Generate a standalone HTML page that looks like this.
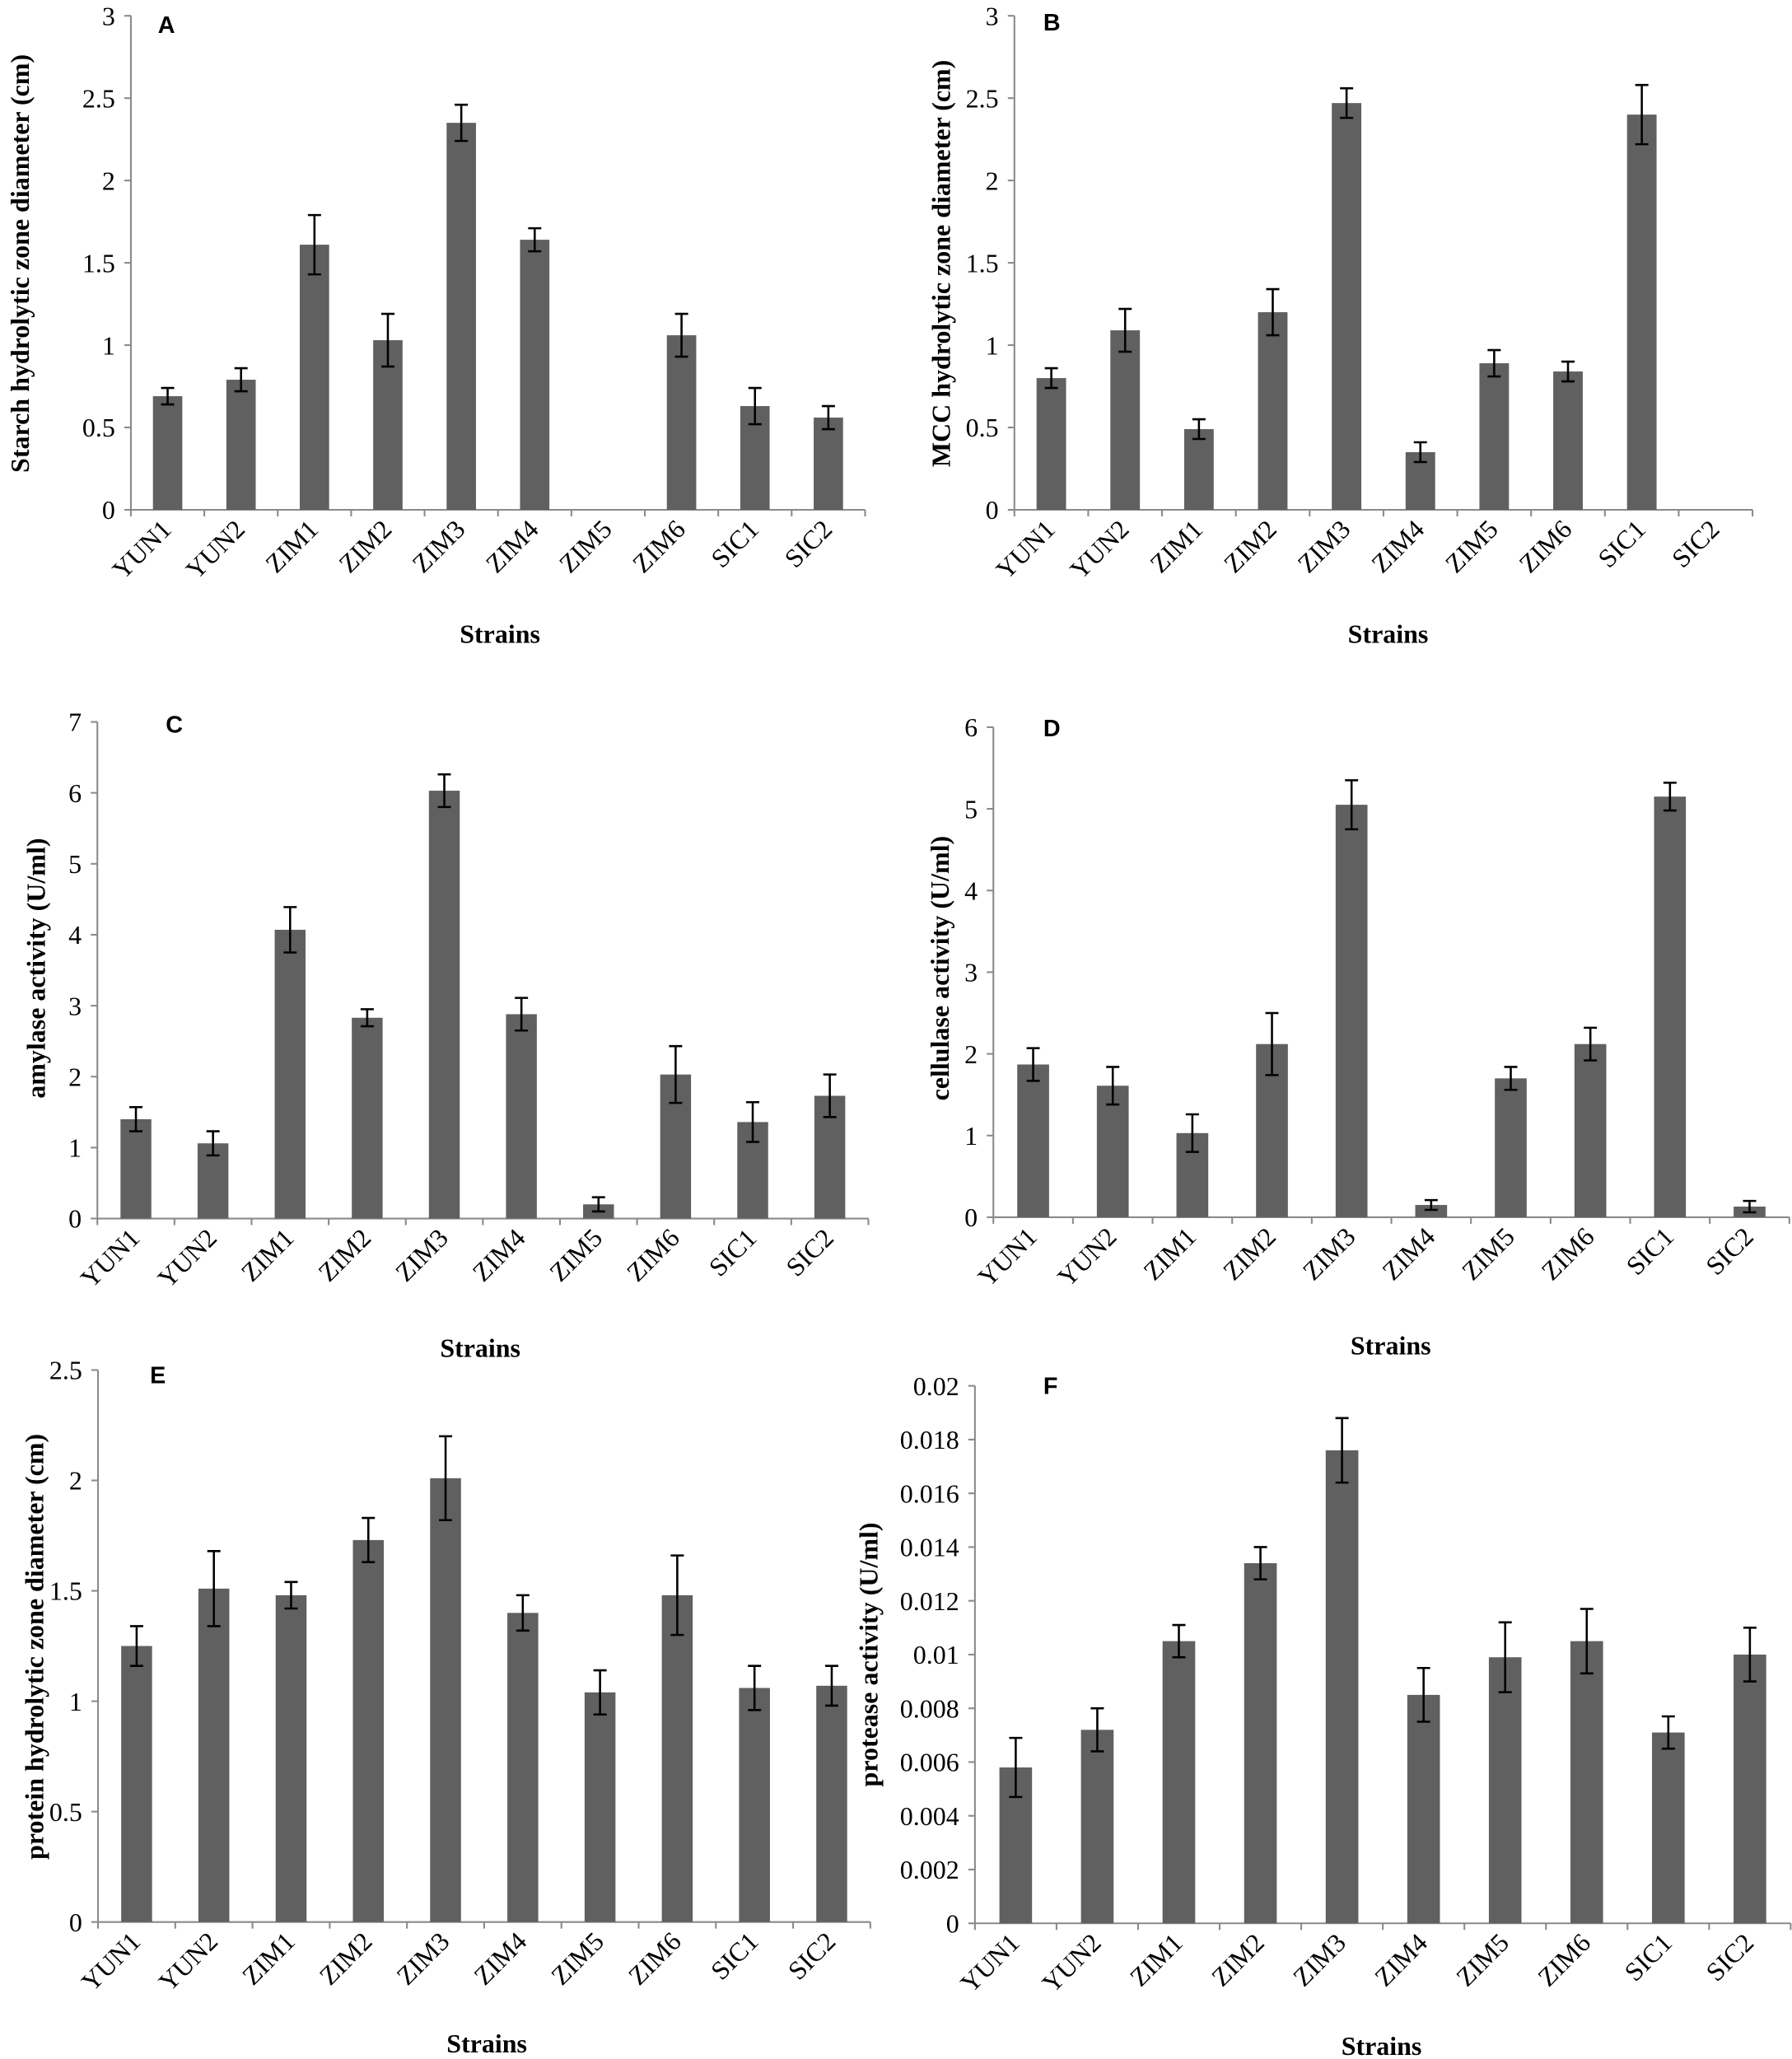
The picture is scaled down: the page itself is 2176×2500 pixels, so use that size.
<!DOCTYPE html>
<html><head><meta charset="utf-8"><style>
html,body{margin:0;padding:0;background:#fff;}
svg{display:block;}
.t{font-family:"Liberation Serif",serif;font-size:20px;fill:#000;}
.xl{font-family:"Liberation Serif",serif;font-size:20px;fill:#000;text-anchor:end;}
.yl{font-family:"Liberation Serif",serif;font-size:20px;font-weight:bold;fill:#000;text-anchor:middle;}
.st{font-family:"Liberation Serif",serif;font-size:20px;font-weight:bold;fill:#000;text-anchor:middle;}
.L{font-family:"Liberation Sans",sans-serif;font-size:18px;font-weight:bold;fill:#000;}
.tk{text-anchor:end;}
</style></head><body>
<svg id="s" width="2176" height="2500" viewBox="0 0 1362 1563" preserveAspectRatio="none" xmlns="http://www.w3.org/2000/svg">
<rect width="1362" height="1563" fill="#fff"/>
<g id="shapes"></g>

<!-- Panel A -->
<g transform="translate(99.5,387)">
<text class="t tk" x="-12" y="7">0</text><text class="t tk" x="-12" y="-55.5">0.5</text><text class="t tk" x="-12" y="-118">1</text><text class="t tk" x="-12" y="-180.5">1.5</text><text class="t tk" x="-12" y="-243">2</text><text class="t tk" x="-12" y="-305.5">2.5</text><text class="t tk" x="-12" y="-368">3</text>
<text class="xl" transform="translate(31.9,16) rotate(-45)">YUN1</text><text class="xl" transform="translate(87.7,16) rotate(-45)">YUN2</text><text class="xl" transform="translate(143.5,16) rotate(-45)">ZIM1</text><text class="xl" transform="translate(199.3,16) rotate(-45)">ZIM2</text><text class="xl" transform="translate(255.1,16) rotate(-45)">ZIM3</text><text class="xl" transform="translate(310.9,16) rotate(-45)">ZIM4</text><text class="xl" transform="translate(366.7,16) rotate(-45)">ZIM5</text><text class="xl" transform="translate(422.5,16) rotate(-45)">ZIM6</text><text class="xl" transform="translate(478.3,16) rotate(-45)">SIC1</text><text class="xl" transform="translate(534.1,16) rotate(-45)">SIC2</text>
</g>
<text class="yl" transform="translate(22,200) rotate(-90)">Starch hydrolytic zone diameter (cm)</text>
<text class="st" x="380" y="488">Strains</text>
<text class="L" x="120" y="25">A</text>

<!-- Panel B -->
<g transform="translate(771,387)">
<text class="t tk" x="-12" y="7">0</text><text class="t tk" x="-12" y="-55.5">0.5</text><text class="t tk" x="-12" y="-118">1</text><text class="t tk" x="-12" y="-180.5">1.5</text><text class="t tk" x="-12" y="-243">2</text><text class="t tk" x="-12" y="-305.5">2.5</text><text class="t tk" x="-12" y="-368">3</text>
<text class="xl" transform="translate(32,16) rotate(-45)">YUN1</text><text class="xl" transform="translate(88.2,16) rotate(-45)">YUN2</text><text class="xl" transform="translate(144.3,16) rotate(-45)">ZIM1</text><text class="xl" transform="translate(200.4,16) rotate(-45)">ZIM2</text><text class="xl" transform="translate(256.5,16) rotate(-45)">ZIM3</text><text class="xl" transform="translate(312.6,16) rotate(-45)">ZIM4</text><text class="xl" transform="translate(368.7,16) rotate(-45)">ZIM5</text><text class="xl" transform="translate(424.8,16) rotate(-45)">ZIM6</text><text class="xl" transform="translate(480.9,16) rotate(-45)">SIC1</text><text class="xl" transform="translate(537,16) rotate(-45)">SIC2</text>
</g>
<text class="yl" transform="translate(722,200) rotate(-90)">MCC hydrolytic zone diameter (cm)</text>
<text class="st" x="1055" y="488">Strains</text>
<text class="L" x="793" y="23">B</text>

<!-- Panel C -->
<g transform="translate(74,925)">
<text class="t tk" x="-12" y="7">0</text><text class="t tk" x="-12" y="-46.9">1</text><text class="t tk" x="-12" y="-100.7">2</text><text class="t tk" x="-12" y="-154.6">3</text><text class="t tk" x="-12" y="-208.4">4</text><text class="t tk" x="-12" y="-262.3">5</text><text class="t tk" x="-12" y="-316.1">6</text><text class="t tk" x="-12" y="-370">7</text>
<text class="xl" transform="translate(33.3,16) rotate(-45)">YUN1</text><text class="xl" transform="translate(91.9,16) rotate(-45)">YUN2</text><text class="xl" transform="translate(150.5,16) rotate(-45)">ZIM1</text><text class="xl" transform="translate(209.1,16) rotate(-45)">ZIM2</text><text class="xl" transform="translate(267.7,16) rotate(-45)">ZIM3</text><text class="xl" transform="translate(326.3,16) rotate(-45)">ZIM4</text><text class="xl" transform="translate(384.9,16) rotate(-45)">ZIM5</text><text class="xl" transform="translate(443.5,16) rotate(-45)">ZIM6</text><text class="xl" transform="translate(502.1,16) rotate(-45)">SIC1</text><text class="xl" transform="translate(560.7,16) rotate(-45)">SIC2</text>
</g>
<text class="yl" transform="translate(34,735) rotate(-90)">amylase activity (U/ml)</text>
<text class="st" x="365" y="1030">Strains</text>
<text class="L" x="126" y="556">C</text>

<!-- Panel D -->
<g transform="translate(755,924)">
<text class="t tk" x="-12" y="7">0</text><text class="t tk" x="-12" y="-55">1</text><text class="t tk" x="-12" y="-117">2</text><text class="t tk" x="-12" y="-179">3</text><text class="t tk" x="-12" y="-241">4</text><text class="t tk" x="-12" y="-303">5</text><text class="t tk" x="-12" y="-365">6</text>
<text class="xl" transform="translate(34.3,16) rotate(-45)">YUN1</text><text class="xl" transform="translate(94.8,16) rotate(-45)">YUN2</text><text class="xl" transform="translate(155.3,16) rotate(-45)">ZIM1</text><text class="xl" transform="translate(215.8,16) rotate(-45)">ZIM2</text><text class="xl" transform="translate(276.3,16) rotate(-45)">ZIM3</text><text class="xl" transform="translate(336.8,16) rotate(-45)">ZIM4</text><text class="xl" transform="translate(397.3,16) rotate(-45)">ZIM5</text><text class="xl" transform="translate(457.8,16) rotate(-45)">ZIM6</text><text class="xl" transform="translate(518.3,16) rotate(-45)">SIC1</text><text class="xl" transform="translate(578.8,16) rotate(-45)">SIC2</text>
</g>
<text class="yl" transform="translate(721,735) rotate(-90)">cellulase activity (U/ml)</text>
<text class="st" x="1057" y="1028">Strains</text>
<text class="L" x="793" y="559">D</text>

<!-- Panel E -->
<g transform="translate(74.5,1459)">
<text class="t tk" x="-12" y="7">0</text><text class="t tk" x="-12" y="-76.8">0.5</text><text class="t tk" x="-12" y="-160.6">1</text><text class="t tk" x="-12" y="-244.4">1.5</text><text class="t tk" x="-12" y="-328.2">2</text><text class="t tk" x="-12" y="-412">2.5</text>
<text class="xl" transform="translate(33.4,16) rotate(-45)">YUN1</text><text class="xl" transform="translate(92.1,16) rotate(-45)">YUN2</text><text class="xl" transform="translate(150.8,16) rotate(-45)">ZIM1</text><text class="xl" transform="translate(209.5,16) rotate(-45)">ZIM2</text><text class="xl" transform="translate(268.2,16) rotate(-45)">ZIM3</text><text class="xl" transform="translate(326.9,16) rotate(-45)">ZIM4</text><text class="xl" transform="translate(385.6,16) rotate(-45)">ZIM5</text><text class="xl" transform="translate(444.3,16) rotate(-45)">ZIM6</text><text class="xl" transform="translate(503,16) rotate(-45)">SIC1</text><text class="xl" transform="translate(561.7,16) rotate(-45)">SIC2</text>
</g>
<text class="yl" transform="translate(33,1250) rotate(-90)">protein hydrolytic zone diameter (cm)</text>
<text class="st" x="370" y="1558">Strains</text>
<text class="L" x="114" y="1050">E</text>

<!-- Panel F -->
<g transform="translate(741,1460)">
<text class="t tk" x="-12" y="7">0</text><text class="t tk" x="-12" y="-33.8">0.002</text><text class="t tk" x="-12" y="-74.6">0.004</text><text class="t tk" x="-12" y="-115.4">0.006</text><text class="t tk" x="-12" y="-156.2">0.008</text><text class="t tk" x="-12" y="-197">0.01</text><text class="t tk" x="-12" y="-237.8">0.012</text><text class="t tk" x="-12" y="-278.6">0.014</text><text class="t tk" x="-12" y="-319.4">0.016</text><text class="t tk" x="-12" y="-360.2">0.018</text><text class="t tk" x="-12" y="-401">0.02</text>
<text class="xl" transform="translate(35,16) rotate(-45)">YUN1</text><text class="xl" transform="translate(97,16) rotate(-45)">YUN2</text><text class="xl" transform="translate(159,16) rotate(-45)">ZIM1</text><text class="xl" transform="translate(221,16) rotate(-45)">ZIM2</text><text class="xl" transform="translate(283,16) rotate(-45)">ZIM3</text><text class="xl" transform="translate(345,16) rotate(-45)">ZIM4</text><text class="xl" transform="translate(407,16) rotate(-45)">ZIM5</text><text class="xl" transform="translate(469,16) rotate(-45)">ZIM6</text><text class="xl" transform="translate(531,16) rotate(-45)">SIC1</text><text class="xl" transform="translate(593,16) rotate(-45)">SIC2</text>
</g>
<text class="yl" transform="translate(667,1256) rotate(-90)">protease activity (U/ml)</text>
<text class="st" x="1050" y="1560">Strains</text>
<text class="L" x="793" y="1058">F</text>
</svg>
<script>
var P=[
{x0:99.5,sp:55.8,yt:12,y0:387,max:3,step:0.5,
 v:[[.69,.05],[.79,.07],[1.61,.18],[1.03,.16],[2.35,.11],[1.64,.07],[0,0],[1.06,.13],[.63,.11],[.56,.07]]},
{x0:771,sp:56.1,yt:12,y0:387,max:3,step:0.5,
 v:[[.80,.06],[1.09,.13],[.49,.06],[1.20,.14],[2.47,.09],[.35,.06],[.89,.08],[.84,.06],[2.40,.18],[0,0]]},
{x0:74,sp:58.6,yt:548,y0:925,max:7,step:1,
 v:[[1.40,.17],[1.06,.17],[4.07,.32],[2.83,.12],[6.03,.23],[2.88,.23],[.2,.1],[2.03,.4],[1.36,.28],[1.73,.3]]},
{x0:755,sp:60.5,yt:552,y0:924,max:6,step:1,
 v:[[1.87,.2],[1.61,.23],[1.03,.23],[2.12,.38],[5.05,.3],[.15,.06],[1.7,.14],[2.12,.2],[5.15,.17],[.13,.07]]},
{x0:74.5,sp:58.7,yt:1040,y0:1459,max:2.5,step:0.5,
 v:[[1.25,.09],[1.51,.17],[1.48,.06],[1.73,.1],[2.01,.19],[1.40,.08],[1.04,.1],[1.48,.18],[1.06,.1],[1.07,.09]]},
{x0:741,sp:62,yt:1052,y0:1460,max:.02,step:.002,
 v:[[.0058,.0011],[.0072,.0008],[.0105,.0006],[.0134,.0006],[.0176,.0012],[.0085,.001],[.0099,.0013],[.0105,.0012],[.0071,.0006],[.0100,.001]]}
];
var h='';
P.forEach(function(p){
 var k=(p.y0-p.yt)/p.max, xe=p.x0+p.sp*10;
 h+='<line x1="'+p.x0+'" y1="'+p.yt+'" x2="'+p.x0+'" y2="'+p.y0+'" stroke="#8a8a8a" stroke-width="1.3"/>';
 h+='<line x1="'+p.x0+'" y1="'+p.y0+'" x2="'+xe+'" y2="'+p.y0+'" stroke="#8a8a8a" stroke-width="1.3"/>';
 var n=Math.round(p.max/p.step);
 for(var i=0;i<=n;i++){var y=p.y0-i*p.step*k;h+='<line x1="'+(p.x0-5)+'" y1="'+y+'" x2="'+p.x0+'" y2="'+y+'" stroke="#8a8a8a" stroke-width="1.3"/>';}
 for(var i=0;i<=10;i++){var x=p.x0+i*p.sp;h+='<line x1="'+x+'" y1="'+p.y0+'" x2="'+x+'" y2="'+(p.y0+5)+'" stroke="#8a8a8a" stroke-width="1.3"/>';}
 p.v.forEach(function(d,i){
  var c=p.x0+(i+.5)*p.sp,w=p.sp*0.4,top=p.y0-d[0]*k;
  h+='<rect x="'+(c-w/2)+'" y="'+top+'" width="'+w+'" height="'+(p.y0-top)+'" fill="#606060"/>';
  if(d[1]>0){var a=p.y0-(d[0]+d[1])*k,b=p.y0-(d[0]-d[1])*k;
   h+='<path d="M'+c+' '+a+'V'+b+'M'+(c-5)+' '+a+'H'+(c+5)+'M'+(c-5)+' '+b+'H'+(c+5)+'" stroke="#000" stroke-width="1.6" fill="none"/>';}
 });
});
document.getElementById('shapes').innerHTML=h;
</script>
</body></html>
